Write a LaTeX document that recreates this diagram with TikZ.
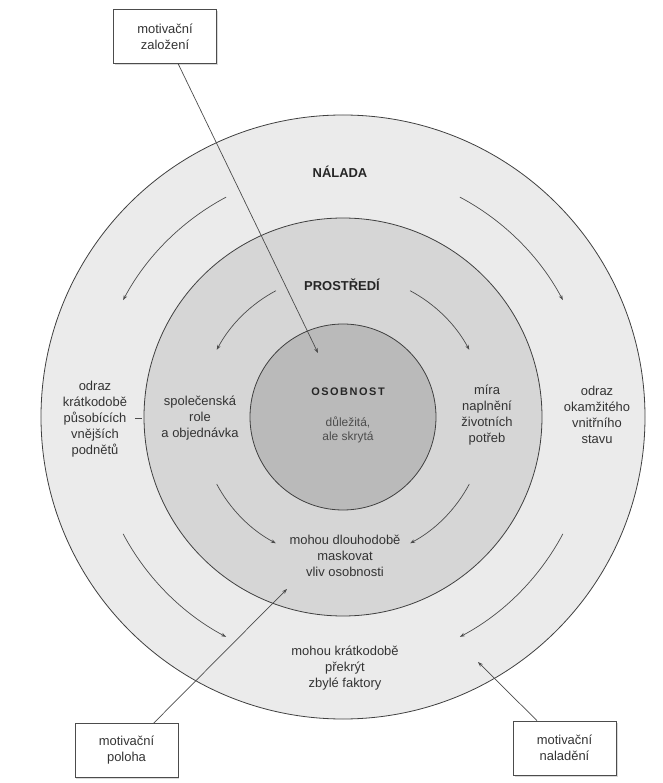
\documentclass[tikz,border=0pt]{standalone}
\usepackage{fontspec}
\setmainfont{Liberation Sans}
\usetikzlibrary{arrows.meta,shadows}
\def\ringarrow[#1](#2:#3:#4){\draw[#1] ({#4*cos(#2)},{#4*sin(#2)}) arc (#2:#3:#4);}

\tikzset{
	ring/.style={draw=black!75, line width=0.8bp},
	flow/.style={draw=black!70, line width=0.7bp, -{Stealth[length=5bp,width=3.6bp]}},
	motive/.style={draw=black!70, line width=0.8bp, fill=white, minimum width=103bp, minimum height=54bp, align=center, text=black!80, font=\fontsize{13}{16}\selectfont, drop shadow={shadow xshift=1.5bp, shadow yshift=-1.5bp, opacity=0.3}},
	ringtext/.style={align=center, text=black!80, font=\fontsize{13}{16}\selectfont},
	zonetitle/.style={text=black!85, font=\fontsize{13}{16}\selectfont\bfseries},
}

\begin{document}
\begin{tikzpicture}[x=1bp, y=1bp]
		%%%%% START %%%%%
		\useasboundingbox (-343,-366) rectangle (320,417);
		
		\draw[ring, fill=black!8] (0,0) circle (302);
		\draw[ring, fill=black!16] (0,0) circle (199);
		\draw[ring, fill=black!27] (0,0) circle (93);
		
		% outer ring
		\ringarrow[flow](118:152:249);
		\ringarrow[flow](62:28:249);
		\ringarrow[flow](208:242:249);
		\ringarrow[flow](-28:-62:249);
		
		% middle ring
		\ringarrow[flow](118:152:143);
		\ringarrow[flow](62:28:143);
		\ringarrow[flow](208:242:143);
		\ringarrow[flow](-28:-62:143);
		
		\node[zonetitle] (nalada) at (-3,245) {NÁLADA};
		\node[zonetitle] (prostredi) at (-1,132) {PROSTŘEDÍ};
		\node[zonetitle, font=\fontsize{11}{13}\selectfont\bfseries\addfontfeatures{LetterSpace=14}] (osobnost) at (5,25) {OSOBNOST};
		\node[ringtext, text=black!70, font=\fontsize{12}{13.5}\selectfont] (skryta) at (5,-13) {důležitá,\\ale skrytá};
		
		\node[ringtext] (vnejsi) at (-248,-2) {odraz\\krátkodobě\\působících\\vnějších\\podnětů};
		\draw[black!70, line width=0.7bp] (-208,-1) -- (-201,-1);
		\node[ringtext] (role) at (-143,-1) {společenská\\role\\a objednávka};
		\node[ringtext] (potreby) at (144,2) {míra\\naplnění\\životních\\potřeb};
		\node[ringtext] (vnitrni) at (254,2) {odraz\\okamžitého\\vnitřního\\stavu};
		\node[ringtext] (maskovat) at (2,-139) {mohou dlouhodobě\\maskovat\\vliv osobnosti};
		\node[ringtext] (prekryt) at (2,-251) {mohou krátkodobě\\překrýt\\zbylé faktory};
		
		% boxes
		\node[motive] (zalozeni) at (-178,380.5) {motivační\\založení};
		\node[motive] (poloha) at (-216.5,-333.5) {motivační\\poloha};
		\node[motive] (naladeni) at (221.5,-331) {motivační\\naladění};
		
		\coordinate (zalTip) at (-25,64);
		\coordinate (polTip) at (-56,-172);
		\coordinate (nalTip) at (135,-245);
		
		\draw[flow] (zalozeni) -- (zalTip);
		\draw[flow] (poloha) -- (polTip);
		\draw[flow] (naladeni) -- (nalTip);
		
		%%%%% END %%%%%
	\end{tikzpicture}
\end{document}
